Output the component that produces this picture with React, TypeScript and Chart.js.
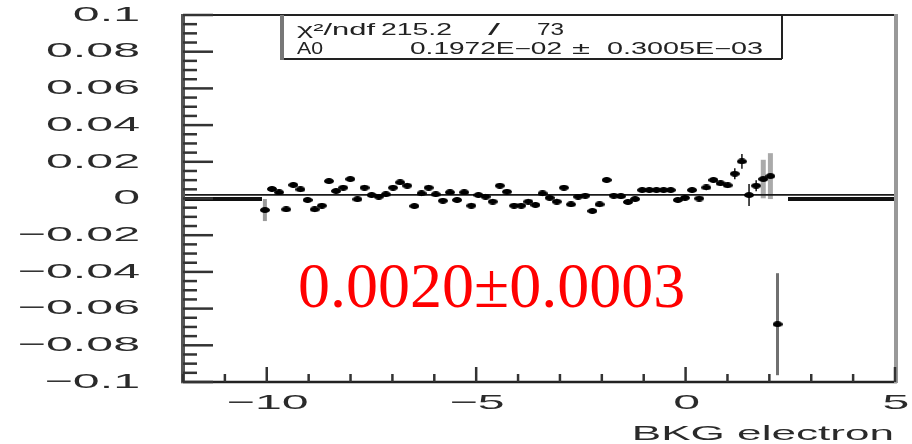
import React, { useEffect, useRef } from "react";
import { Chart, registerables } from "chart.js";
Chart.register(...registerables);

// ---- histogram definition ----
const X_MIN = -12;
const X_MAX = 5;
const N_BINS = 100;
const Y_MIN = -0.1;
const Y_MAX = 0.1;

// ---- measured bins (first bin index 11 .. 83) ----
const MEASURED_FIRST_BIN = 11;
const MEASURED_VALUES = [
  -0.0063, 0.0052, 0.0034, -0.0059, 0.0074, 0.005, -0.0008, -0.0059, -0.0039, 0.0095,
  0.0041, 0.0059, 0.0106, -0.0004, 0.0059, 0.0019, 0.001, 0.0023, 0.0059, 0.0088,
  0.007, -0.0041, 0.0028, 0.0059, 0.0023, -0.0012, 0.0034, -0.0008, 0.0034, -0.0039,
  0.0019, 0.001, -0.0017, 0.007, 0.0037, -0.0039, -0.0039, -0.0017, -0.0035, 0.0028,
  0.0004, -0.0017, 0.0059, -0.0032, 0.001, 0.0015, -0.0068, -0.0032, 0.0101, 0.0015,
  0.0012, -0.0019, -0.0003, 0.0046, 0.0046, 0.0046, 0.0046, 0.0046, -0.0008, 0.0004,
  0.0046, 0.0, 0.006, 0.0101, 0.0083, 0.0072, 0.0135, 0.0202, 0.0019, 0.007,
  0.0106, 0.0122, -0.0685,
];
const MEASURED_ERRORS = [
  0.006, 0.0015, 0.0015, 0.0015, 0.0015, 0.0015, 0.0015, 0.0015, 0.0015, 0.0015,
  0.0015, 0.0015, 0.0015, 0.0015, 0.0015, 0.0015, 0.0015, 0.0015, 0.0015, 0.0015,
  0.0015, 0.0015, 0.0015, 0.0015, 0.0015, 0.0015, 0.0015, 0.0015, 0.0015, 0.0015,
  0.0015, 0.0015, 0.0015, 0.0015, 0.0015, 0.0015, 0.0015, 0.0015, 0.0015, 0.0015,
  0.0015, 0.0015, 0.0015, 0.0015, 0.0015, 0.0015, 0.0015, 0.0015, 0.0015, 0.0015,
  0.0015, 0.0015, 0.0015, 0.0015, 0.0015, 0.0015, 0.0015, 0.0015, 0.0015, 0.0015,
  0.0015, 0.0015, 0.0015, 0.0015, 0.0015, 0.0015, 0.003, 0.004, 0.006, 0.003,
  0.0105, 0.0125, 0.0278,
];
// empty bins drawn at zero
const EMPTY_BINS = [
  0, 1, 2, 3, 4, 5, 6, 7, 8, 9, 10,
  85, 86, 87, 88, 89, 90, 91, 92, 93, 94, 95, 96, 97, 98, 99,
];

// ---- fit ----
const FIT_A0 = 0.001972;

// ---- axis labels ----
const Y_TICK_VALUES = [0.1, 0.08, 0.06, 0.04, 0.02, 0, -0.02, -0.04, -0.06, -0.08, -0.1];
const Y_TICK_LABELS = ["0.1", "0.08", "0.06", "0.04", "0.02", "0", "\u22120.02", "\u22120.04", "\u22120.06", "\u22120.08", "\u22120.1"];
const Y_MINOR_STEP = 0.005;
const X_TICK_VALUES = [-10, -5, 0, 5];
const X_TICK_LABELS = ["\u221210", "\u22125", "0", "5"];
const X_MINOR_STEP = 1;
const X_TITLE = "BKG electron";

// ---- stats box / annotation text ----
const STAT_CHI_LABEL = "\u03c7\u00b2/ndf";
const STAT_CHI_VALUE = "215.2";
const STAT_SLASH = "/";
const STAT_NDF = "73";
const STAT_PAR_NAME = "A0";
const STAT_PAR_VALUE = "0.1972E\u221202";
const STAT_PM = "\u00b1";
const STAT_PAR_ERR = "0.3005E\u221203";
const ANNOTATION = "0.0020\u00b10.0003";

const binCenter = (i: number) => X_MIN + ((i + 0.5) * (X_MAX - X_MIN)) / N_BINS;

function makeEllipse(w: number, h: number, color: string) {
  const c = document.createElement("canvas");
  c.width = w;
  c.height = h;
  const g = c.getContext("2d")!;
  g.fillStyle = color;
  g.beginPath();
  g.ellipse(w / 2, h / 2, w / 2, h / 2, 0, 0, Math.PI * 2);
  g.fill();
  return c;
}
function makeRect(w: number, h: number, color: string) {
  const c = document.createElement("canvas");
  c.width = w;
  c.height = h;
  const g = c.getContext("2d")!;
  g.fillStyle = color;
  g.fillRect(0, 0, w, h);
  return c;
}

function drawStretched(
  ctx: CanvasRenderingContext2D,
  text: string,
  x: number,
  y: number,
  font: string,
  sx: number,
  align: "left" | "right" | "center",
  baseline: CanvasTextBaseline,
  color: string
) {
  ctx.save();
  ctx.font = font;
  ctx.fillStyle = color;
  ctx.textBaseline = baseline;
  ctx.textAlign = "left";
  const w = ctx.measureText(text).width * sx;
  const left = align === "left" ? x : align === "right" ? x - w : x - w / 2;
  ctx.translate(left, y);
  ctx.scale(sx, 1);
  ctx.fillText(text, 0, 0);
  ctx.restore();
}

function drawFit(
  ctx: CanvasRenderingContext2D,
  text: string,
  left: number,
  baselineY: number,
  font: string,
  width: number,
  color: string
) {
  ctx.save();
  ctx.font = font;
  const w = ctx.measureText(text).width;
  ctx.restore();
  drawStretched(ctx, text, left, baselineY, font, width / w, "left", "alphabetic", color);
}

const ERR_STYLE: Record<number, { color: string; width: number }> = {
  11: { color: "#9a9a9a", width: 4 },
  81: { color: "#aaaaaa", width: 5 },
  82: { color: "#aaaaaa", width: 5 },
  83: { color: "#707070", width: 3 },
};

function line(ctx: CanvasRenderingContext2D, x1: number, y1: number, x2: number, y2: number, color: string, w: number) {
  ctx.beginPath();
  ctx.strokeStyle = color;
  ctx.lineWidth = w;
  ctx.moveTo(x1, y1);
  ctx.lineTo(x2, y2);
  ctx.stroke();
}

const errorBarPlugin = {
  id: "errorBars",
  beforeDatasetsDraw(chart: any) {
    const ctx = chart.ctx as CanvasRenderingContext2D;
    const xs = chart.scales.x;
    const ys = chart.scales.y;
    ctx.save();
    MEASURED_VALUES.forEach((v, k) => {
      const bin = MEASURED_FIRST_BIN + k;
      const e = MEASURED_ERRORS[k];
      const st = ERR_STYLE[bin] || { color: "#111", width: 1.5 };
      const px = xs.getPixelForValue(binCenter(bin));
      line(ctx, px, ys.getPixelForValue(v + e), px, ys.getPixelForValue(v - e), st.color, st.width);
    });
    ctx.restore();
  },
};

const bgPlugin = {
  id: "whiteBg",
  beforeDraw(chart: any) {
    const ctx = chart.ctx as CanvasRenderingContext2D;
    ctx.save();
    ctx.fillStyle = "#ffffff";
    ctx.fillRect(0, 0, chart.width, chart.height);
    ctx.restore();
  },
};

const framePlugin = {
  id: "frameAndText",
  afterDraw(chart: any) {
    const ctx = chart.ctx as CanvasRenderingContext2D;
    const xs = chart.scales.x;
    const ys = chart.scales.y;
    const area = chart.chartArea;
    const L = area.left, R = area.right, T = area.top, B = area.bottom;
    ctx.save();

    // frame
    line(ctx, L - 2, T, R + 2, T, "#222", 2);
    line(ctx, L - 2, B, R + 2, B, "#222", 2.5);
    line(ctx, L, T - 1, L, B + 1, "#555", 4);
    line(ctx, R + 1, T - 1, R + 1, B + 1, "#999", 4);

    // y ticks (inward)
    const nY = Math.round((Y_MAX - Y_MIN) / Y_MINOR_STEP);
    for (let k = 0; k <= nY; k++) {
      const v = Y_MIN + k * Y_MINOR_STEP;
      const py = ys.getPixelForValue(v);
      const len = k % 4 === 0 ? 30 : 14;
      line(ctx, L, py, L + len, py, "#333333", 2.5);
    }
    // x ticks (inward)
    const nX = Math.round((X_MAX - X_MIN) / X_MINOR_STEP);
    for (let k = 0; k <= nX; k++) {
      const v = X_MIN + k * X_MINOR_STEP;
      const px = xs.getPixelForValue(v);
      const len = Math.round(v) % 5 === 0 ? 15 : 8;
      line(ctx, px, B, px, B - len, "#333333", 2.5);
    }

    // stats box
    const bx0 = 282, bx1 = 782, by0 = T, by1 = 59;
    ctx.fillStyle = "#fff";
    ctx.fillRect(bx0, by0 + 1, bx1 - bx0, by1 - by0 - 1);
    line(ctx, bx0, by1, bx1, by1, "#222", 2);
    line(ctx, bx1, by0, bx1, by1, "#222", 2);
    line(ctx, bx0, by0, bx0, by1 + 1, "#777", 4);

    const sf = "16px 'Liberation Sans', Arial, sans-serif";
    const tc = "#222";
    drawFit(ctx, STAT_CHI_LABEL, 297, 35, sf, 78, tc);
    drawFit(ctx, STAT_CHI_VALUE, 381, 35, sf, 71, tc);
    drawFit(ctx, STAT_SLASH, 488, 35, sf, 12, tc);
    drawFit(ctx, STAT_NDF, 537, 35, sf, 27, tc);
    drawFit(ctx, STAT_PAR_NAME, 297, 54, sf, 26, tc);
    drawFit(ctx, STAT_PAR_VALUE, 410, 54, sf, 152, tc);
    drawFit(ctx, STAT_PM, 572, 54, sf, 18, tc);
    drawFit(ctx, STAT_PAR_ERR, 607, 54, sf, 156, tc);

    // tick labels
    const tf = "21px 'Liberation Sans', Arial, sans-serif";
    const lc = "#2a2a2a";
    Y_TICK_VALUES.forEach((v, i) => {
      drawStretched(ctx, Y_TICK_LABELS[i], 140, ys.getPixelForValue(v), tf, 2.3, "right", "middle", lc);
    });
    X_TICK_VALUES.forEach((v, i) => {
      drawStretched(ctx, X_TICK_LABELS[i], xs.getPixelForValue(v) + 1, 403, tf, 2.3, "center", "middle", lc);
    });
    drawStretched(ctx, X_TITLE, 894, 440, tf, 2.1, "right", "alphabetic", lc);

    // annotation
    ctx.font = "64px 'Liberation Serif', 'Times New Roman', serif";
    ctx.fillStyle = "#ff0000";
    ctx.textAlign = "left";
    ctx.textBaseline = "alphabetic";
    ctx.fillText(ANNOTATION, 298, 307);

    ctx.restore();
  },
};

export default function App() {
  const ref = useRef<HTMLCanvasElement | null>(null);
  useEffect(() => {
    document.body.style.margin = "0";
    const canvas = ref.current!;
    const dot = makeEllipse(10, 6, "#000");
    const dash = makeRect(8, 4, "#111");
    const chart = new Chart(canvas, {
      type: "scatter",
      data: {
        datasets: [
          {
            type: "line",
            data: [
              { x: X_MIN, y: FIT_A0 },
              { x: X_MAX, y: FIT_A0 },
            ],
            showLine: true,
            borderColor: "#1a1a1a",
            borderWidth: 1.6,
            pointRadius: 0,
            order: 3,
          } as any,
          {
            data: EMPTY_BINS.map((i) => ({ x: binCenter(i), y: 0 })),
            pointStyle: dash as any,
            pointRadius: 3,
            order: 2,
          },
          {
            data: MEASURED_VALUES.map((v, k) => ({ x: binCenter(MEASURED_FIRST_BIN + k), y: v })),
            pointStyle: dot as any,
            pointRadius: 3,
            order: 1,
          },
        ],
      },
      options: {
        animation: false,
        responsive: false,
        devicePixelRatio: 1,
        layout: { padding: { left: 183, right: 17, top: 15, bottom: 62 } },
        plugins: { legend: { display: false }, tooltip: { enabled: false } },
        scales: {
          x: { type: "linear", min: X_MIN, max: X_MAX, display: false },
          y: { type: "linear", min: Y_MIN, max: Y_MAX, display: false },
        },
      },
      plugins: [bgPlugin, errorBarPlugin, framePlugin],
    });
    return () => chart.destroy();
  }, []);
  return <canvas ref={ref} width={912} height={444} style={{ display: "block", width: 912, height: 444 }} />;
}
